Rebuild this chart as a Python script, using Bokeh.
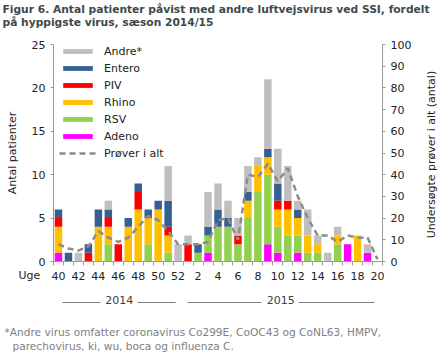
import math
from bokeh.plotting import figure
from bokeh.models import (ColumnDataSource, LinearAxis, Range1d, FixedTicker,
                          Legend, LegendItem, Label, Title)
from bokeh.embed import file_html
from bokeh.resources import INLINE

# ---------------- data ----------------
weeks = ["40", "41", "42", "43", "44", "45", "46", "47", "48", "49", "50", "51", "52",
         "1", "2", "3", "4", "5", "6", "7", "8", "9", "10", "11", "12", "13", "14",
         "15", "16", "17", "18", "19", "20"]
adeno  = [1, 0, 0, 0, 0, 0, 0, 0, 0, 0, 0, 0, 0, 0, 0, 1, 0, 0, 0, 0, 0, 2, 1, 0, 1, 0, 0, 0, 0, 2, 0, 1, 0]
rsv    = [0, 0, 0, 0, 0, 2, 0, 0, 0, 2, 0, 1, 0, 0, 1, 2, 4, 4, 2, 5, 8, 8, 3, 3, 2, 1, 1, 0, 2, 0, 0, 0, 0]
rhino  = [3, 0, 0, 0, 4, 2, 0, 4, 6, 3, 6, 2, 0, 0, 0, 0, 0, 0, 0, 2, 3, 2, 2, 3, 2, 2, 1, 0, 1, 0, 3, 0, 0]
piv    = [1, 0, 0, 1, 0, 1, 2, 0, 2, 0, 0, 1, 0, 2, 0, 0, 0, 0, 1, 0, 0, 0, 1, 1, 0, 0, 0, 0, 0, 0, 0, 0, 0]
entero = [1, 1, 0, 1, 2, 1, 0, 1, 1, 1, 1, 3, 0, 0, 1, 1, 2, 1, 0, 1, 0, 1, 2, 0, 1, 0, 0, 0, 0, 0, 0, 0, 0]
andre  = [0, 0, 1, 0, 0, 1, 0, 0, 0, 0, 0, 4, 2, 1, 0, 4, 3, 2, 2, 3, 1, 8, 4, 4, 1, 3, 1, 1, 1, 0, 0, 1, 0]
prover = [8, 6, 5, 7, 14, 11, 9, 11, 16, 21, 19, 14, 8, 8, 8, 9, 19, 20, 10, 40, 39, 45, 37, 43,
          30, 20, 12, 12, 9, 12, 11, 11, 1]

series_names = ["Adeno", "RSV", "Rhino", "PIV", "Entero", "Andre*"]
series_keys = ["adeno", "rsv", "rhino", "piv", "entero", "andre"]
series_colors = ["#ff00ff", "#92d050", "#ffc000", "#ff0000", "#366092", "#bfbfbf"]

left_ticks = [0, 5, 10, 15, 20, 25]
right_ticks = [0, 10, 20, 30, 40, 50, 60, 70, 80, 90, 100]

years = ["2014", "2015"]
year_centers = [6.1, 22.3]                       # x position (bar index units) of year labels
year_rules = [(0.4, 4.2), (7.9, 11.7), (12.9, 20.4), (24.1, 31.7)]

title_text = ("Figur 6. Antal patienter påvist med andre luftvejsvirus ved SSI, fordelt\n"
              "på hyppigste virus, sæson 2014/15")
foot_lines = ["*Andre virus omfatter coronavirus Co299E, CoOC43 og CoNL63, HMPV,",
              "parechovirus, ki, wu, boca og influenza C."]
left_title = "Antal patienter"
right_title = "Undersøgte prøver i alt (antal)"

# ---------------- layout ----------------
W, H = 440, 353
FL, FR, FT, FB = 53, 382, 44, 261
FONT = "DejaVu Sans"
TXT = "#222222"
AX = "#9a9a9a"
TITLE_C = "#3b4a4d"
FOOT_C = "#808080"

xs = list(range(len(weeks)))
src = ColumnDataSource(dict(x=xs, adeno=adeno, rsv=rsv, rhino=rhino, piv=piv,
                            entero=entero, andre=andre, prover=prover))

p = figure(width=W, height=H, output_backend="svg", toolbar_location=None,
           x_range=Range1d(-0.5, len(weeks) - 0.5), y_range=Range1d(0, 25),
           min_border_left=FL, min_border_right=W - FR,
           min_border_top=FT, min_border_bottom=H - FB)
p.outline_line_color = None
p.xgrid.visible = False
p.ygrid.visible = False
p.background_fill_color = "white"
p.border_fill_color = "white"
p.extra_y_ranges = {"right": Range1d(0, 100)}

bars = p.vbar_stack(series_keys, x="x", width=0.75, color=series_colors,
                    line_color=None, source=src)
line = p.line(x="x", y="prover", y_range_name="right", source=src,
              line_color="#8c8c8c", line_width=2.5, line_dash="6 4")


def style_axis(a):
    a.axis_line_color = AX
    a.major_tick_line_color = AX
    a.major_tick_out = 3
    a.major_tick_in = 0
    a.minor_tick_line_color = None
    a.major_label_text_font = FONT
    a.major_label_text_font_size = "11px"
    a.major_label_text_color = TXT
    a.major_label_standoff = 5
    a.axis_label_text_font = FONT
    a.axis_label_text_font_size = "11px"
    a.axis_label_text_font_style = "normal"
    a.axis_label_text_color = TXT


def spacer(size):
    """An invisible axis row used only to add room in a side panel."""
    s = LinearAxis(ticker=FixedTicker(ticks=[len(weeks) - 0.55]))
    s.major_label_overrides = {len(weeks) - 0.55: ""}
    s.major_label_text_font_size = "0px"
    s.major_label_standoff = 0
    s.axis_line_color = None
    s.major_tick_line_color = "white"
    s.major_tick_out = size
    s.major_tick_in = 0
    s.minor_tick_line_color = None
    return s


# left axis
ya = p.yaxis[0]
ya.ticker = FixedTicker(ticks=left_ticks)
style_axis(ya)
ya.axis_label = left_title
ya.axis_label_standoff = 10

# right axis (title as a rotated label in the right panel)
ra = LinearAxis(y_range_name="right", ticker=FixedTicker(ticks=right_ticks))
style_axis(ra)
p.add_layout(ra, "right")
p.add_layout(Label(x=17, y=FB - 154, x_units="screen", y_units="screen", text=right_title,
                   angle=math.pi / 2, text_align="center", text_baseline="middle",
                   text_font=FONT, text_font_size="11px", text_color=TXT), "right")

# bottom axis (weeks)
xa = p.xaxis[0]
label_idx = [i for i in xs if i % 2 == 0]
xa.ticker = FixedTicker(ticks=label_idx, minor_ticks=[i - 0.5 for i in xs] + [xs[-1] + 0.5])
xa.major_label_overrides = {i: weeks[i] for i in label_idx}
style_axis(xa)
xa.major_tick_line_color = None
xa.major_tick_out = 0
xa.minor_tick_line_color = AX
xa.minor_tick_out = 4
xa.minor_tick_in = 0
xa.major_label_standoff = 6

# "Uge" in the below panel (raised onto the tick label row)
p.add_layout(Label(x=18 - FL, y=14, x_units="screen", y_units="screen", text="Uge",
                   text_font=FONT, text_font_size="11px", text_color=TXT), "below")

p.add_layout(spacer(7), "below")

# year rules (axis lines limited by bounds)
for (a, b) in year_rules:
    r = LinearAxis(ticker=FixedTicker(ticks=[]), bounds=(a, b))
    r.axis_line_color = "#808080"
    r.major_tick_line_color = None
    r.minor_tick_line_color = None
    r.major_label_text_font_size = "0px"
    r.major_label_standoff = 0
    p.add_layout(r, "below")

# year labels
yx = LinearAxis(ticker=FixedTicker(ticks=year_centers))
yx.major_label_overrides = {c: t for c, t in zip(year_centers, years)}
yx.axis_line_color = None
yx.major_tick_line_color = None
yx.minor_tick_line_color = None
yx.major_tick_out = 0
yx.major_label_text_font = FONT
yx.major_label_text_font_size = "11px"
yx.major_label_text_color = "#404040"
yx.major_label_standoff = -7
p.add_layout(yx, "below")

p.add_layout(spacer(17), "below")

# footnote
p.add_layout(Title(text=foot_lines[0], align="left", offset=4 - FL, standoff=0,
                   text_font=FONT, text_font_size="10.6px", text_font_style="normal",
                   text_color=FOOT_C), "below")
p.add_layout(Title(text=foot_lines[1], align="left", offset=12 - FL, standoff=0,
                   text_font=FONT, text_font_size="10.6px", text_font_style="normal",
                   text_color=FOOT_C), "below")

# title
p.add_layout(spacer(16), "above")
p.add_layout(Title(text=title_text, align="left", offset=2 - FL, standoff=0,
                   text_font=FONT, text_font_size="10.7px", text_font_style="bold",
                   text_color=TITLE_C), "above")

# legend
order = [5, 4, 3, 2, 1, 0]
items = [LegendItem(label=series_names[i], renderers=[bars[i]]) for i in order]
items.append(LegendItem(label="Prøver i alt", renderers=[line]))
leg = Legend(items=items, location=(6, 99.5), orientation="vertical",
             background_fill_alpha=0, border_line_color=None,
             glyph_width=37, glyph_height=6, label_height=17, spacing=0,
             padding=0, margin=0, label_standoff=8,
             label_text_font=FONT, label_text_font_size="11px", label_text_color=TXT)
p.add_layout(leg)

open("out.html", "w").write(file_html(p, INLINE))
